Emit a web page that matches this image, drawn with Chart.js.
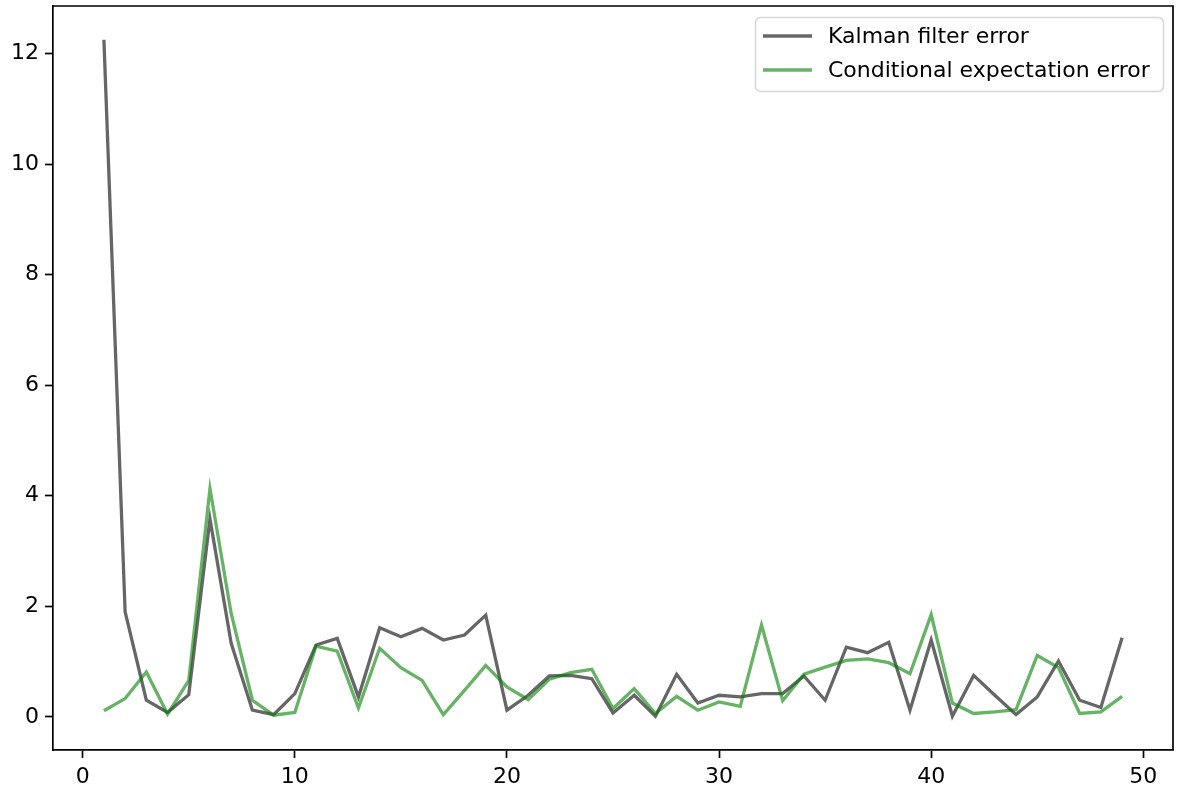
<!DOCTYPE html>
<html>
<head>
<meta charset="utf-8">
<script src="https://cdn.jsdelivr.net/npm/chart.js@4.4.1/dist/chart.umd.min.js"></script>
<style>
  html, body { margin: 0; padding: 0; background: #fff; }
  canvas { display: block; }
</style>
</head>
<body>
<canvas id="errChart" width="1177" height="790"></canvas>
<script>
// time steps 1..49
const steps = Array.from({ length: 49 }, (_, i) => i + 1);

const kalmanErr = [
  12.25, 1.90, 0.30, 0.08, 0.40, 3.58, 1.33, 0.12, 0.04, 0.42,
  1.30, 1.42, 0.36, 1.61, 1.45, 1.60, 1.39, 1.48, 1.84, 0.12,
  0.39, 0.74, 0.75, 0.69, 0.07, 0.39, 0.01, 0.77, 0.25, 0.39,
  0.36, 0.42, 0.42, 0.74, 0.30, 1.26, 1.16, 1.35, 0.12, 1.39,
  0.01, 0.75, 0.39, 0.04, 0.36, 1.01, 0.30, 0.17, 1.43
];

const condExpErr = [
  0.11, 0.33, 0.81, 0.05, 0.66, 4.13, 1.87, 0.30, 0.03, 0.08,
  1.28, 1.19, 0.16, 1.24, 0.89, 0.66, 0.04, 0.48, 0.93, 0.54,
  0.31, 0.68, 0.80, 0.86, 0.15, 0.51, 0.06, 0.37, 0.12, 0.27,
  0.19, 1.66, 0.29, 0.77, 0.90, 1.02, 1.05, 0.98, 0.78, 1.85,
  0.25, 0.06, 0.09, 0.13, 1.11, 0.89, 0.06, 0.09, 0.37
];

const xTicks = [0, 10, 20, 30, 40, 50];
const yTicks = [0, 2, 4, 6, 8, 10, 12];

const FONT = "DejaVu Sans";

// matplotlib-like frame: top and right spines
const frame = {
  id: 'frame',
  afterDatasetsDraw(chart) {
    const { ctx, chartArea: a } = chart;
    ctx.save();
    ctx.strokeStyle = '#000';
    ctx.lineWidth = 1.7;
    ctx.beginPath();
    ctx.moveTo(a.left, a.top);
    ctx.lineTo(a.right, a.top);
    ctx.lineTo(a.right, a.bottom);
    ctx.stroke();
    ctx.restore();
  }
};

// legend box in the upper right corner
const boxLegend = {
  id: 'boxLegend',
  afterDraw(chart) {
    const ctx = chart.ctx;
    const x = 755.5, y = 17.5, w = 408, h = 74, r = 5;
    ctx.save();
    ctx.beginPath();
    ctx.roundRect(x, y, w, h, r);
    ctx.fillStyle = 'rgba(255,255,255,0.8)';
    ctx.fill();
    ctx.strokeStyle = '#d6d6d6';
    ctx.lineWidth = 1.5;
    ctx.stroke();
    ctx.font = '22px "' + FONT + '"';
    ctx.textBaseline = 'middle';
    chart.data.datasets.forEach((ds, i) => {
      const ly = 36 + i * 34;
      ctx.strokeStyle = ds.borderColor;
      ctx.lineWidth = 3.3;
      ctx.beginPath();
      ctx.moveTo(763, ly);
      ctx.lineTo(812, ly);
      ctx.stroke();
      ctx.fillStyle = '#000';
      ctx.fillText(ds.label, 828, ly + 1);
    });
    ctx.restore();
  }
};

const axisCommon = {
  type: 'linear',
  grid: { drawOnChartArea: false, drawTicks: true, tickLength: 8, tickWidth: 1.7, tickColor: '#000' },
  border: { display: true, color: '#000', width: 1.7 },
  ticks: { color: '#000', font: { family: FONT, size: 22 }, padding: 6 }
};

new Chart(document.getElementById('errChart'), {
  type: 'line',
  data: {
    labels: steps,
    datasets: [
      {
        label: 'Kalman filter error',
        data: steps.map((s, i) => ({ x: s, y: kalmanErr[i] })),
        borderColor: 'rgba(0,0,0,0.6)',
        borderWidth: 3.3,
        pointRadius: 0,
        tension: 0,
        order: 1
      },
      {
        label: 'Conditional expectation error',
        data: steps.map((s, i) => ({ x: s, y: condExpErr[i] })),
        borderColor: 'rgba(0,128,0,0.6)',
        borderWidth: 3.3,
        pointRadius: 0,
        tension: 0,
        order: 0
      }
    ]
  },
  options: {
    responsive: false,
    animation: false,
    layout: { padding: { top: 6, right: 4, left: 0, bottom: 0 } },
    plugins: { legend: { display: false }, tooltip: { enabled: false } },
    scales: {
      x: {
        ...axisCommon,
        position: 'bottom',
        min: -1.4,
        max: 51.4,
        afterBuildTicks: s => { s.ticks = xTicks.map(v => ({ value: v })); },
        afterFit: s => { s.height = 40; s.paddingLeft = 0; s.paddingRight = 0; }
      },
      y: {
        ...axisCommon,
        position: 'left',
        min: -0.6,
        max: 12.86,
        afterBuildTicks: s => { s.ticks = yTicks.map(v => ({ value: v })); },
        afterFit: s => { s.width = 53; s.paddingTop = 0; s.paddingBottom = 0; }
      }
    }
  },
  plugins: [frame, boxLegend]
});
</script>
</body>
</html>
